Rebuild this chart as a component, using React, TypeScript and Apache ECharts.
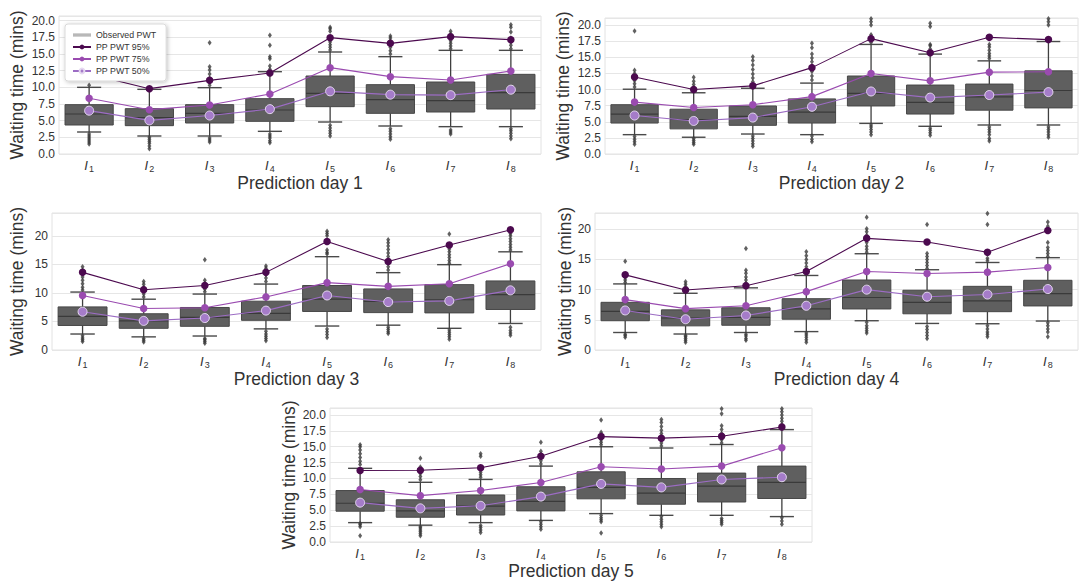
import React, { useEffect, useRef } from 'react';
import * as echarts from 'echarts';

const CATEGORIES = ['1', '2', '3', '4', '5', '6', '7', '8'];
const DAY_TITLES = ['Prediction day 1', 'Prediction day 2', 'Prediction day 3', 'Prediction day 4', 'Prediction day 5'];
const Y_TITLE = 'Waiting time (mins)';
const SERIES_NAMES = ['Observed PWT', 'PP PWT 95%', 'PP PWT 75%', 'PP PWT 50%'];

// box stats: [lower whisker, Q1, median, Q3, upper whisker]
const day1Box = [[3.3, 4.35, 6.0, 7.4, 10.0], [2.7, 4.25, 5.45, 6.8, 9.7], [2.7, 4.65, 6.1, 7.4, 9.95], [3.4, 4.9, 6.6, 8.3, 12.35], [4.8, 7.1, 9.1, 11.7, 15.3], [4.2, 6.1, 8.15, 10.4, 14.6], [4.1, 6.3, 8.0, 10.8, 15.55], [4.1, 6.75, 9.2, 11.95, 15.55]];
const day2Box = [[3.0, 4.8, 6.2, 7.65, 10.05], [2.6, 3.9, 5.35, 6.95, 9.5], [3.1, 4.45, 5.85, 7.45, 10.2], [3.0, 4.8, 6.5, 8.55, 11.0], [4.75, 7.45, 9.4, 12.1, 17.0], [4.3, 6.2, 8.0, 10.7, 15.5], [4.5, 6.8, 8.85, 10.85, 14.45], [4.5, 7.15, 9.85, 12.9, 17.45]];
const day3Box = [[2.8, 4.3, 5.9, 7.55, 10.15], [2.3, 3.8, 5.1, 6.35, 8.9], [2.45, 4.15, 5.7, 7.45, 9.8], [3.7, 5.2, 6.4, 8.55, 11.55], [4.2, 6.75, 8.9, 11.3, 16.35], [4.35, 6.55, 8.5, 10.7, 13.55], [3.8, 6.5, 8.8, 11.45, 14.95], [4.65, 7.1, 9.7, 12.1, 17.2]];
const day4Box = [[2.9, 4.85, 6.4, 7.9, 10.95], [2.65, 4.0, 5.3, 6.65, 9.4], [2.9, 4.1, 5.4, 7.0, 10.3], [3.05, 5.1, 6.8, 8.5, 12.35], [4.85, 6.8, 8.7, 11.6, 15.95], [4.4, 6.0, 7.9, 9.9, 13.3], [4.35, 6.35, 8.15, 10.55, 14.5], [4.8, 7.3, 9.35, 11.55, 15.3]];
const day5Box = [[3.05, 4.85, 6.1, 8.1, 11.6], [2.65, 3.9, 4.9, 6.65, 9.4], [3.05, 4.25, 5.65, 7.4, 9.85], [3.4, 4.9, 6.4, 8.7, 11.95], [4.47, 6.8, 8.6, 11.05, 15.0], [4.2, 5.95, 7.7, 10.0, 14.8], [4.2, 6.3, 8.8, 10.85, 15.35], [4.0, 6.85, 9.4, 11.95, 17.7]];

const day1P95 = [12.0, 9.8, 11.05, 12.15, 17.45, 16.6, 17.6, 17.15];
const day1P75 = [8.37, 6.65, 7.35, 9.0, 12.95, 11.6, 11.1, 12.45];
const day1P50 = [6.5, 5.05, 5.77, 6.73, 9.4, 8.9, 8.83, 9.65];
const day2P95 = [11.95, 10.0, 10.57, 13.4, 17.9, 15.7, 18.1, 17.75];
const day2P75 = [8.05, 7.22, 7.65, 8.9, 12.5, 11.35, 12.7, 12.75];
const day2P50 = [5.97, 5.13, 5.65, 7.33, 9.7, 8.75, 9.15, 9.6];
const day3P95 = [13.6, 10.55, 11.3, 13.6, 19.0, 15.5, 18.4, 21.05];
const day3P75 = [9.55, 7.27, 7.4, 9.3, 11.8, 11.15, 11.6, 15.1];
const day3P50 = [6.7, 5.1, 5.6, 6.9, 9.55, 8.4, 8.6, 10.45];
const day4P95 = [12.45, 9.95, 10.65, 13.0, 18.5, 17.9, 16.2, 19.8];
const day4P75 = [8.35, 6.85, 7.33, 9.67, 13.0, 12.67, 12.9, 13.67];
const day4P50 = [6.55, 5.1, 5.72, 7.33, 10.0, 8.83, 9.2, 10.1];
const day5P95 = [11.25, 11.3, 11.7, 13.5, 16.6, 16.35, 16.65, 18.1];
const day5P75 = [8.27, 7.3, 8.1, 9.37, 11.85, 11.5, 11.95, 14.85];
const day5P50 = [6.2, 5.3, 5.7, 7.15, 9.15, 8.6, 9.85, 10.2];

// outliers per category
const day1Out = [
  [10.3, 1.5, 1.8, 2.1, 2.4, 2.7, 3.0],
  [0.8, 1.2, 1.6, 1.9, 2.2, 2.5],
  [10.3, 10.8, 11.4, 12.0, 12.6, 13.1, 16.7, 1.8, 2.1, 2.4],
  [12.7, 13.2, 14.3, 14.6, 16.3, 17.8, 1.7, 2.0, 2.4, 2.7, 3.0],
  [15.6, 16.0, 16.4, 16.8, 17.2, 18.4, 18.8, 19.0, 2.7, 3.1, 3.5, 3.9, 4.3],
  [15.0, 15.5, 16.0, 16.5, 17.0, 17.4, 17.7, 2.2, 2.6, 3.0, 3.4, 3.8],
  [15.8, 16.2, 16.6, 17.0, 17.5, 18.0, 18.4, 3.0, 3.3, 3.6],
  [15.8, 16.3, 16.8, 17.4, 18.3, 19.0, 19.4, 2.3, 2.7, 3.1, 3.5, 3.8],
];
const day2Out = [
  [10.4, 10.9, 11.4, 12.0, 12.5, 13.0, 19.1, 1.5, 1.9, 2.3, 2.7],
  [9.8, 10.3, 10.8, 11.3, 11.9, 1.5, 1.8, 2.1, 2.4],
  [10.6, 11.2, 11.8, 12.4, 13.1, 13.8, 14.5, 15.1, 1.2, 1.6, 2.0, 2.4, 2.8],
  [11.5, 12.1, 12.8, 13.6, 14.3, 14.9, 15.5, 16.5, 17.2, 1.9, 2.3, 2.8],
  [17.3, 17.7, 18.1, 18.5, 20.0, 20.5, 21.0, 3.0, 3.4, 3.8, 4.2, 4.5],
  [15.8, 16.3, 16.8, 17.0, 19.8, 20.3, 2.9, 3.3, 3.7, 4.0],
  [14.8, 15.2, 15.6, 16.1, 16.6, 17.0, 2.0, 2.4, 3.0, 3.4, 3.8, 4.2],
  [20.0, 20.5, 21.0, 2.6, 3.0, 3.4, 3.8, 4.2],
];
const day3Out = [
  [10.5, 11.0, 11.6, 12.2, 12.8, 13.4, 14.0, 14.6, 1.5, 1.8, 2.1, 2.5],
  [9.3, 9.8, 10.4, 11.0, 11.5, 12.0, 1.4, 1.7, 2.0],
  [10.2, 10.7, 11.2, 11.7, 12.2, 15.8, 1.2, 1.5, 1.8, 2.0],
  [12.0, 12.6, 13.2, 13.8, 14.3, 14.7, 1.6, 2.0, 2.4, 2.8, 3.3],
  [16.8, 17.1, 17.5, 20.0, 20.4, 20.8, 2.2, 2.7, 3.2, 3.7],
  [14.0, 14.6, 15.2, 15.8, 16.4, 17.0, 17.6, 18.2, 18.8, 19.3, 2.9, 3.2, 3.6, 4.0],
  [15.2, 15.7, 16.2, 16.7, 17.2, 17.7, 18.2, 20.3, 1.9, 2.3, 2.7, 3.1, 3.5],
  [17.5, 18.0, 18.5, 19.0, 19.5, 20.0, 20.4, 20.8, 2.6, 3.0, 3.4, 4.0],
];
const day4Out = [
  [11.2, 11.6, 12.0, 12.5, 14.7, 2.1, 2.4, 2.6],
  [9.7, 10.1, 10.5, 10.9, 11.3, 1.3, 1.6, 1.9, 2.2, 2.4],
  [10.6, 11.1, 11.6, 12.1, 12.7, 13.2, 16.8, 1.6, 1.9, 2.3, 2.6],
  [12.6, 13.2, 13.8, 14.4, 15.0, 15.6, 16.3, 1.3, 1.7, 2.1, 2.5, 2.8],
  [16.2, 16.7, 17.2, 17.8, 18.4, 19.0, 19.6, 20.1, 22.0, 2.8, 3.2, 3.6, 4.0, 4.6],
  [13.5, 14.0, 14.5, 15.0, 15.5, 16.0, 20.8, 1.9, 2.4, 2.9, 3.4, 3.9],
  [14.8, 15.2, 20.8, 22.6, 2.2, 2.6, 3.0, 3.5, 4.0],
  [15.5, 16.0, 16.5, 17.0, 17.8, 20.5, 21.2, 2.2, 3.0, 3.5, 4.0, 4.5],
];
const day5Out = [
  [12.2, 12.7, 13.3, 13.9, 14.5, 15.0, 15.3, 1.0, 2.4, 2.7, 2.9],
  [9.8, 10.3, 10.8, 11.3, 11.8, 13.2, 1.0, 1.3, 1.6, 1.9, 2.2, 2.4],
  [10.2, 10.6, 11.0, 11.5, 13.5, 13.9, 1.5, 1.9, 2.3, 2.6],
  [12.3, 12.8, 13.3, 13.8, 14.3, 15.7, 2.0, 2.4, 2.8, 3.2],
  [15.3, 15.7, 16.1, 16.5, 16.9, 17.3, 19.2, 1.4, 3.2, 3.5, 3.8, 4.2],
  [15.1, 15.6, 16.1, 16.6, 17.1, 17.6, 18.2, 18.8, 19.3, 2.4, 2.8, 3.2, 3.6, 4.0],
  [15.6, 16.1, 16.6, 17.1, 17.7, 18.3, 20.2, 21.0, 2.8, 3.1, 3.4, 3.7],
  [18.0, 18.5, 19.0, 19.5, 20.0, 20.5, 21.0, 2.8, 3.3, 3.8],
];

const DAYS = [
  { box: day1Box, out: day1Out, p95: day1P95, p75: day1P75, p50: day1P50 },
  { box: day2Box, out: day2Out, p95: day2P95, p75: day2P75, p50: day2P50 },
  { box: day3Box, out: day3Out, p95: day3P95, p75: day3P75, p50: day3P50 },
  { box: day4Box, out: day4Out, p95: day4P95, p75: day4P75, p50: day4P50 },
  { box: day5Box, out: day5Out, p95: day5P95, p75: day5P75, p50: day5P50 },
];

// layout (pixels) and axis settings per panel
const LAYOUT = [
  { left: 59, top: 16, width: 482, height: 138, max: 20.7, interval: 2.5, dec: 1, yGap: 33 },
  { left: 605, top: 18, width: 473, height: 136, max: 21.1, interval: 2.5, dec: 1, yGap: 33 },
  { left: 52, top: 213, width: 489, height: 137, max: 24.0, interval: 5, dec: 0, yGap: 26 },
  { left: 595, top: 213, width: 483, height: 137, max: 22.7, interval: 5, dec: 0, yGap: 20 },
  { left: 330, top: 408, width: 482, height: 134, max: 21.1, interval: 2.5, dec: 1, yGap: 32 },
];

const FONT = '"Liberation Sans", Arial, Helvetica, sans-serif';
const TEXT = '#333333';
const C95 = '#4c0a4f';
const C75 = '#9a4bb0';
const C50 = '#9c6cc4';

function renderBox(params: any, api: any) {
  const x = api.value(0);
  const lo = api.value(1), q1 = api.value(2), med = api.value(3), q3 = api.value(4), hi = api.value(5);
  const band = api.size([1, 0])[0];
  const bw = band * 0.8;
  const cw = bw * 0.5;
  const pLo = api.coord([x, lo]);
  const pQ1 = api.coord([x, q1]);
  const pMed = api.coord([x, med]);
  const pQ3 = api.coord([x, q3]);
  const pHi = api.coord([x, hi]);
  const cx = pMed[0];
  const wStyle = { stroke: '#3f3f3f', lineWidth: 1.3 };
  const cStyle = { stroke: '#4a4a4a', lineWidth: 1.4 };
  return {
    type: 'group',
    children: [
      { type: 'line', shape: { x1: cx, y1: pHi[1], x2: cx, y2: pQ3[1] }, style: wStyle },
      { type: 'line', shape: { x1: cx, y1: pQ1[1], x2: cx, y2: pLo[1] }, style: wStyle },
      { type: 'line', shape: { x1: cx - cw / 2, y1: pHi[1], x2: cx + cw / 2, y2: pHi[1] }, style: cStyle },
      { type: 'line', shape: { x1: cx - cw / 2, y1: pLo[1], x2: cx + cw / 2, y2: pLo[1] }, style: cStyle },
      {
        type: 'rect',
        shape: { x: cx - bw / 2, y: pQ3[1], width: bw, height: pQ1[1] - pQ3[1] },
        style: { fill: '#5f5f5f', stroke: '#474747', lineWidth: 1 },
      },
      { type: 'line', shape: { x1: cx - bw / 2, y1: pMed[1], x2: cx + bw / 2, y2: pMed[1] }, style: { stroke: '#3a3a3a', lineWidth: 1.2 } },
    ],
  };
}

function buildOption() {
  const grid: any[] = [];
  const xAxis: any[] = [];
  const yAxis: any[] = [];
  const series: any[] = [];
  DAYS.forEach((d, i) => {
    const L = LAYOUT[i];
    grid.push({
      left: L.left, top: L.top, width: L.width, height: L.height,
      show: true, borderColor: '#e2e2e2', borderWidth: 1, backgroundColor: '#ffffff',
      containLabel: false,
    });
    xAxis.push({
      type: 'category', gridIndex: i, data: CATEGORIES,
      name: DAY_TITLES[i], nameLocation: 'middle', nameGap: 16,
      nameTextStyle: { fontSize: 17.5, color: TEXT, fontFamily: FONT, verticalAlign: 'top' },
      axisLine: { show: false }, axisTick: { show: false }, splitLine: { show: false },
      axisLabel: {
        margin: 3,
        formatter: (v: string) => `{i|I}{s|${v}}`,
        rich: {
          i: { fontFamily: FONT, fontStyle: 'italic', fontSize: 13, color: TEXT },
          s: { fontFamily: FONT, fontSize: 9, color: TEXT, padding: [7, 0, 0, 1] },
        },
      },
    });
    yAxis.push({
      type: 'value', gridIndex: i, min: 0, max: L.max, interval: L.interval,
      name: Y_TITLE, nameLocation: 'middle', nameGap: L.yGap,
      nameTextStyle: { fontSize: 17.5, color: TEXT, fontFamily: FONT },
      axisLine: { show: false }, axisTick: { show: false },
      splitLine: { show: true, lineStyle: { color: '#e6e6e6', width: 1 } },
      axisLabel: {
        margin: 4, fontSize: 12, color: TEXT, fontFamily: FONT, showMaxLabel: false,
        formatter: (v: number) => v.toFixed(L.dec),
      },
    });
    series.push({
      name: SERIES_NAMES[0], type: 'custom', xAxisIndex: i, yAxisIndex: i,
      renderItem: renderBox, z: 2,
      encode: { x: 0, y: [1, 2, 3, 4, 5] },
      itemStyle: { color: '#b5b5b5' },
      data: d.box.map((b, k) => [k, ...b]),
    });
    const outs: number[][] = [];
    d.out.forEach((arr, k) => arr.forEach((v) => outs.push([k, v])));
    series.push({
      name: 'outliers', type: 'scatter', xAxisIndex: i, yAxisIndex: i, z: 3,
      symbol: 'diamond', symbolSize: [4, 5.5],
      itemStyle: { color: '#3a3a3a' }, data: outs, clip: true,
    });
    series.push({
      name: SERIES_NAMES[1], type: 'line', xAxisIndex: i, yAxisIndex: i, z: 4,
      data: d.p95, symbol: 'circle', symbolSize: 7.5,
      lineStyle: { color: C95, width: 1.1 }, itemStyle: { color: C95 },
    });
    series.push({
      name: SERIES_NAMES[2], type: 'line', xAxisIndex: i, yAxisIndex: i, z: 4,
      data: d.p75, symbol: 'circle', symbolSize: 7.5,
      lineStyle: { color: C75, width: 1.1 }, itemStyle: { color: C75 },
    });
    series.push({
      name: SERIES_NAMES[3], type: 'line', xAxisIndex: i, yAxisIndex: i, z: 4,
      data: d.p50, symbol: 'circle', symbolSize: 9,
      lineStyle: { color: C50, width: 1.1 },
      itemStyle: { color: '#a57cc9', borderColor: '#e6d9f1', borderWidth: 1 },
    });
  });
  return {
    animation: false,
    backgroundColor: '#ffffff',
    textStyle: { fontFamily: FONT },
    legend: {
      orient: 'vertical', left: 65, top: 24,
      itemWidth: 18, itemHeight: 6, itemGap: 2,
      padding: [6, 10, 5, 7],
      backgroundColor: '#ffffff', borderColor: '#d0d0d0', borderWidth: 0.8, borderRadius: 3,
      shadowBlur: 4, shadowColor: 'rgba(0,0,0,0.25)', shadowOffsetX: 1, shadowOffsetY: 1,
      textStyle: { fontSize: 8.8, color: TEXT, fontFamily: FONT, lineHeight: 10 },
      selectedMode: false,
      data: [
        { name: SERIES_NAMES[0], icon: 'path://M0,0H30V5.5H0Z', itemStyle: { color: '#b8b8b8' } },
        SERIES_NAMES[1], SERIES_NAMES[2], SERIES_NAMES[3],
      ],
      z: 10,
    },
    grid, xAxis, yAxis, series,
  };
}

export default function App() {
  const ref = useRef<HTMLDivElement>(null);
  useEffect(() => {
    if (!ref.current) return;
    const chart = echarts.init(ref.current, undefined, { renderer: 'svg' });
    chart.setOption(buildOption() as any);
    return () => chart.dispose();
  }, []);
  return <div ref={ref} style={{ position: 'fixed', left: 0, top: 0, width: 1082, height: 581 }} />;
}
